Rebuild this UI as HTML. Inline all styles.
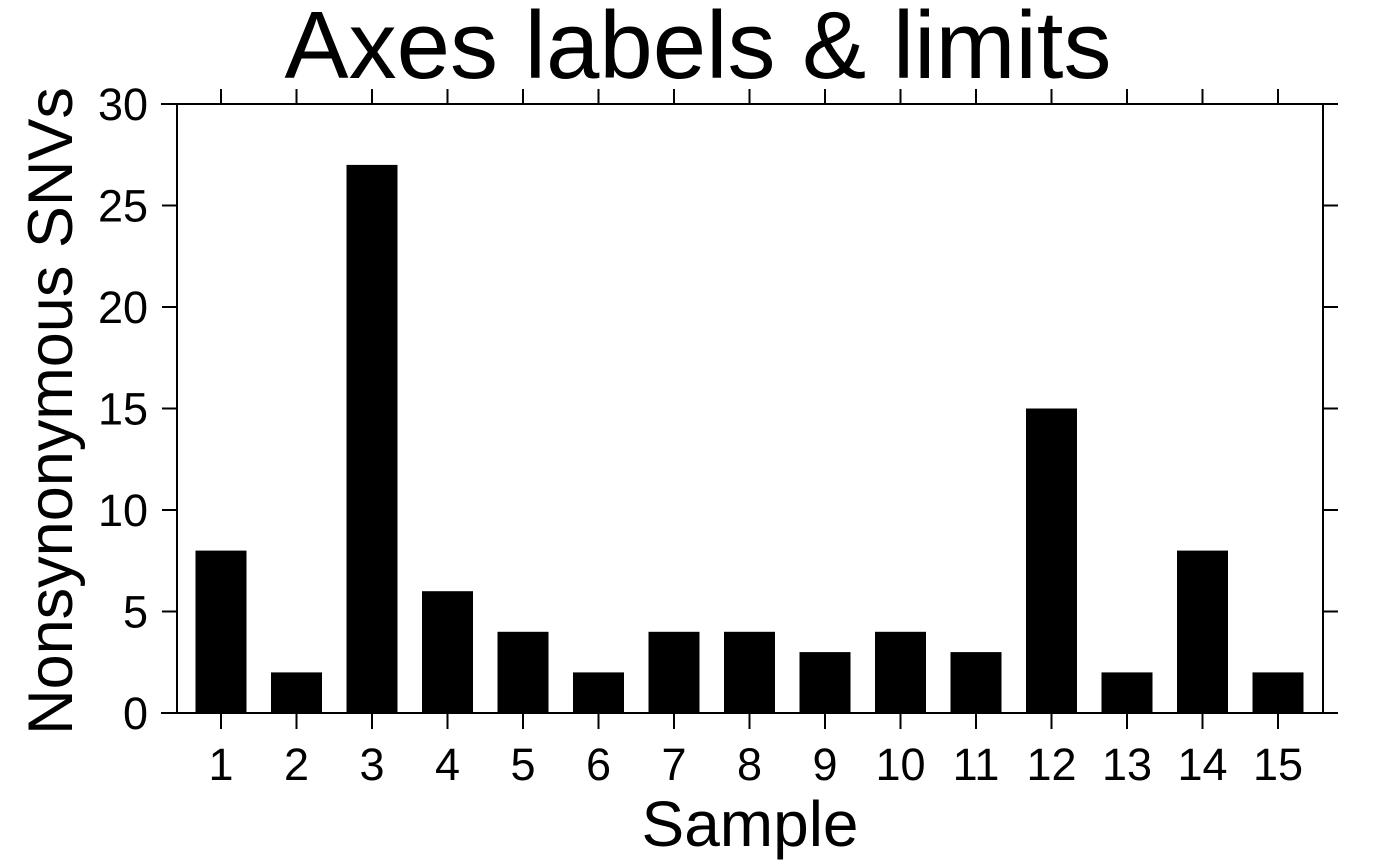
<!DOCTYPE html>
<html><head><meta charset="utf-8"><style>
body{margin:0;background:#fff}
svg{display:block;font-family:"Liberation Sans",Arial,sans-serif}
</style></head><body>
<svg id="chart" width="1400" height="866"></svg>
<script>
const categories=["1","2","3","4","5","6","7","8","9","10","11","12","13","14","15"];
const values=[8,2,27,6,4,2,4,4,3,4,3,15,2,8,2];
const yTicks=[0,5,10,15,20,25,30];
const NS="http://www.w3.org/2000/svg";
const svg=document.getElementById('chart');
const L=177,R=1323,T=104,B=713,ymax=30;
const y=v=>B-(v/ymax)*(B-T);
const x=i=>221+i*(1278-221)/(categories.length-1);
function mk(tag,attrs,parent){const e=document.createElementNS(NS,tag);for(const k in attrs)e.setAttribute(k,attrs[k]);(parent||svg).appendChild(e);return e;}
const title=mk('text',{x:698,y:78,'text-anchor':'middle','font-size':96});
title.textContent='Axes labels & limits';


const bars=mk('g',{});


values.forEach((v,i)=>{
 const r=mk('rect',{x:x(i)-25.5,y:y(v),width:51,height:B-y(v),fill:'#000'},bars);
 
 
});
const ax=mk('g',{stroke:'#000','stroke-width':2,fill:'none'});


mk('line',{x1:161,x2:1338,y1:T,y2:T},ax);
mk('line',{x1:161,x2:1338,y1:B,y2:B},ax);
mk('line',{x1:L,x2:L,y1:T,y2:B},ax);
mk('line',{x1:R,x2:R,y1:T,y2:B},ax);
categories.forEach((c,i)=>{
 mk('line',{x1:x(i),x2:x(i),y1:B,y2:B+16},ax);
 mk('line',{x1:x(i),x2:x(i),y1:T,y2:T-15},ax);
 const t=mk('text',{x:x(i),y:780,'text-anchor':'middle','font-size':45});
 t.textContent=c;
 
 
});
yTicks.forEach(v=>{
 mk('line',{x1:L,x2:L-15,y1:y(v),y2:y(v)},ax);
 mk('line',{x1:R,x2:R+15,y1:y(v),y2:y(v)},ax);
 const t=mk('text',{x:148,y:y(v)+16,'text-anchor':'end','font-size':45});
 t.textContent=v;
 
 
});
const xt=mk('text',{x:750,y:846,'text-anchor':'middle','font-size':64});
xt.textContent='Sample';


const yt=mk('text',{x:0,y:0,'text-anchor':'middle','font-size':63,transform:'translate(72,411) rotate(-90)'});
yt.textContent='Nonsynonymous SNVs';


</script>
</body></html>
